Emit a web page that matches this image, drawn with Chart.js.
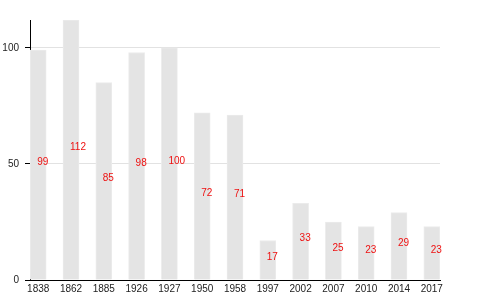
<!DOCTYPE html>
<html>
<head>
<meta charset="utf-8">
<script src="https://cdn.jsdelivr.net/npm/chart.js@4"></script>
<style>
  html, body { margin: 0; padding: 0; background: #fff; }
  #wrap { width: 480px; height: 300px; }
</style>
</head>
<body>
<div id="wrap"><canvas id="chart" width="480" height="300"></canvas></div>
<script>
const years = ["1838", "1862", "1885", "1926", "1927", "1950", "1958", "1997", "2002", "2007", "2010", "2014", "2017"];
const counts = [99, 112, 85, 98, 100, 72, 71, 17, 33, 25, 23, 29, 23];
const yTicks = [0, 50, 100];

const ctx = document.getElementById("chart").getContext("2d");

// red value labels, placed halfway up each bar
const valueLabels = {
  id: "valueLabels",
  afterDatasetsDraw(chart) {
    const c = chart.ctx;
    const y = chart.scales.y;
    c.save();
    c.font = "10px 'Liberation Sans', Arial, sans-serif";
    c.fillStyle = "#ee1111";
    c.textAlign = "left";
    c.textBaseline = "middle";
    chart.getDatasetMeta(0).data.forEach((bar, i) => {
      c.fillText(String(counts[i]), bar.x - 1, y.getPixelForValue(counts[i] / 2) - 3);
    });
    c.restore();
  }
};

new Chart(ctx, {
  type: "bar",
  data: {
    datasets: [{
      data: counts.map((v, i) => ({ x: i, y: v })),
      backgroundColor: "#e4e4e4",
      borderColor: "#ebebeb",
      borderWidth: 1,
      barThickness: 16
    }]
  },
  options: {
    responsive: false,
    animation: false,
    layout: { padding: { top: 20, right: 40, left: 0, bottom: 0 } },
    plugins: { legend: { display: false }, tooltip: { enabled: false } },
    scales: {
      x: {
        type: "linear",
        offset: false,
        min: -0.25,
        max: 12.25,
        afterBuildTicks: (s) => { s.ticks = years.map((_, i) => ({ value: i })); },
        afterFit: (s) => { s.height = 20; },
        ticks: {
          callback: (v) => years[v],
          color: "#222",
          font: { family: "'Liberation Sans', Arial, sans-serif", size: 10 },
          padding: 3,
          maxRotation: 0,
          autoSkip: false
        },
        grid: { display: false, drawTicks: false },
        border: { color: "#000", width: 1 }
      },
      y: {
        min: 0,
        max: 112,
        afterBuildTicks: (s) => { s.ticks = yTicks.map(v => ({ value: v })); },
        afterFit: (s) => { s.width = 30; },
        ticks: {
          color: "#222",
          font: { family: "'Liberation Sans', Arial, sans-serif", size: 10 },
          padding: 6
        },
        grid: {
          color: (c) => c.tick && c.tick.value === 0 ? "rgba(0,0,0,0)" : "#e2e2e2",
          tickColor: "#000",
          tickLength: 5
        },
        border: { color: "#000", width: 1 }
      }
    }
  },
  plugins: [valueLabels]
});
</script>
</body>
</html>
